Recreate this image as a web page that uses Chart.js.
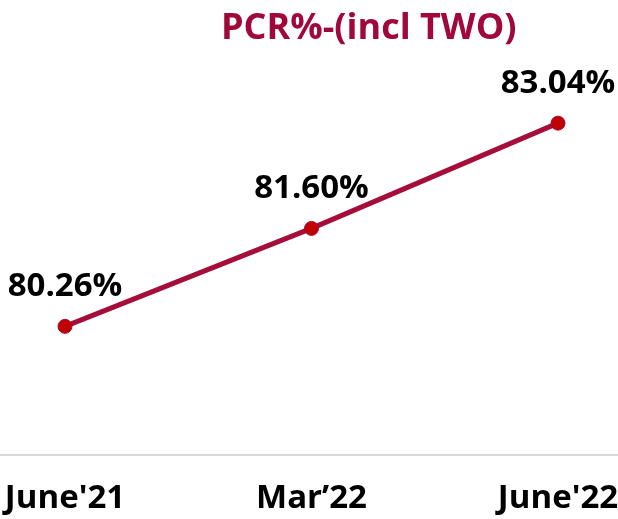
<!DOCTYPE html>
<html lang="en">
<head>
    <meta charset="UTF-8">
    <title>PCR%-(incl TWO)</title>
    <script src="https://cdn.jsdelivr.net/npm/chart.js"></script>
    <style>
        html, body { margin: 0; padding: 0; background: #fff; }
        #wrap { position: relative; width: 618px; height: 519px; }
        #title {
            position: absolute; left: 221px; top: 1px;
            font: bold 36px "Open Sans", sans-serif; color: #A0083A;
            white-space: nowrap;
        }
    </style>
</head>
<body>
    <div id="wrap">
        <canvas id="pcrChart" width="618" height="519"></canvas>
        <div id="title">PCR%-(incl TWO)</div>
    </div>

    <script>
        const periods = ["June'21", "Mar\u201922", "June'22"];
        const pcrValues = [80.26, 81.60, 83.04];
        const yMin = 78.5;
        const yMax = 84;

        // draws the value above each point + full width base line
        const valueLabels = {
            id: 'valueLabels',
            beforeDatasetsDraw(chart) {
                const ctx = chart.ctx;
                const y = chart.chartArea.bottom;
                ctx.save();
                ctx.strokeStyle = '#d9d9d9';
                ctx.lineWidth = 2;
                ctx.beginPath();
                ctx.moveTo(0, y);
                ctx.lineTo(chart.width, y);
                ctx.stroke();
                ctx.restore();
            },
            afterDatasetsDraw(chart) {
                const ctx = chart.ctx;
                const meta = chart.getDatasetMeta(0);
                ctx.save();
                ctx.font = 'bold 33px "Open Sans", sans-serif';
                ctx.fillStyle = '#000';
                ctx.textAlign = 'center';
                ctx.textBaseline = 'middle';
                meta.data.forEach((pt, i) => {
                    ctx.fillText(pcrValues[i].toFixed(2) + '%', pt.x, pt.y - 40);
                });
                ctx.restore();
            }
        };

        new Chart(document.getElementById('pcrChart'), {
            type: 'line',
            data: {
                labels: periods,
                datasets: [{
                    data: pcrValues,
                    borderColor: '#A50D3B',
                    borderWidth: 5,
                    pointBackgroundColor: '#C00000',
                    pointBorderColor: '#A50D3B',
                    pointBorderWidth: 1,
                    pointRadius: 7,
                    tension: 0
                }]
            },
            options: {
                responsive: false,
                animation: false,
                layout: { padding: { left: 0, right: 0, top: 53, bottom: 0 } },
                plugins: {
                    legend: { display: false },
                    title: { display: false },
                    tooltip: { enabled: false }
                },
                scales: {
                    x: {
                        offset: false,
                        grid: { display: false, drawTicks: false },
                        border: { display: false },
                        ticks: {
                            color: '#000',
                            padding: 24,
                            maxRotation: 0,
                            font: { family: '"Open Sans", sans-serif', size: 33, weight: 'bold' }
                        },
                        afterFit(scale) {
                            scale.height = 64;
                            scale.paddingLeft = 65;
                            scale.paddingRight = 60;
                        }
                    },
                    y: {
                        display: false,
                        min: yMin,
                        max: yMax
                    }
                }
            },
            plugins: [valueLabels]
        });
    </script>
</body>
</html>
